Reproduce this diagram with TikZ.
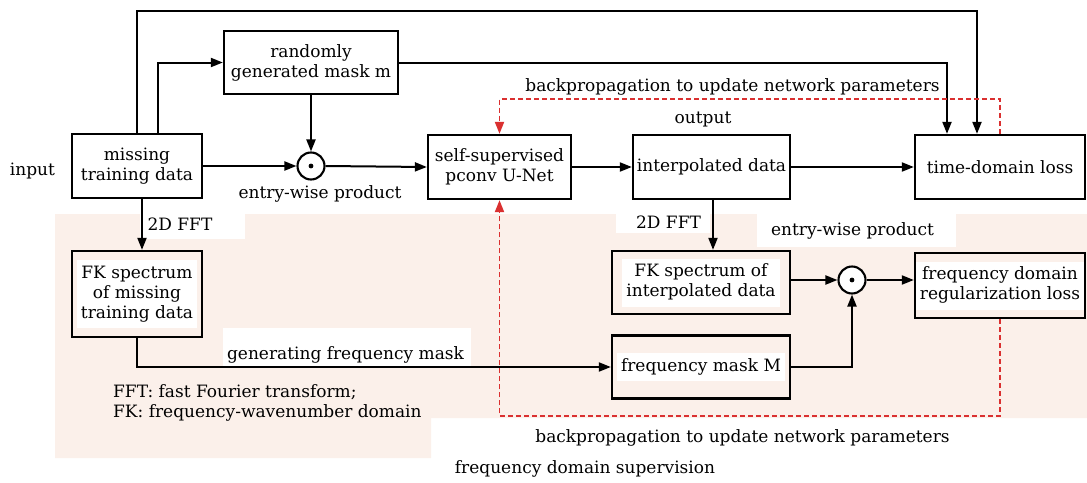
\documentclass[tikz,border=0pt]{standalone}
\usepackage{fontspec}
\setmainfont{DejaVu Serif}
\usetikzlibrary{arrows.meta}
\definecolor{bgpink}{RGB}{251,240,234}
\definecolor{bpred}{RGB}{218,48,48}
\newcommand{\wbx}[1]{{\setlength{\fboxsep}{4pt}\colorbox{white}{\begin{tabular}{@{}c@{}}#1\end{tabular}}}}
\tikzset{
  box/.style={draw, line width=2.3pt, fill=white, align=center, inner sep=0pt},
  pbox/.style={box, fill=bgpink},
  conn/.style={line width=2pt, -{Triangle[length=12pt,width=9pt]}},
  bp/.style={bpred, line width=1.9pt, dash pattern=on 5pt off 3pt, -{Triangle[length=12pt,width=9pt]}},
  prod/.style={circle, draw, line width=2.1pt, minimum size=27pt, inner sep=0pt, fill=white},
  dotc/.style={fill=black},
  lbl/.style={inner sep=0pt, anchor=base},
}
\begin{document}
\begin{tikzpicture}[x=1pt, y=-1pt, font=\fontsize{17}{20}\selectfont]
\useasboundingbox (0,0) rectangle (1087,482);
% background shading and white label patches
\fill[bgpink] (55,214) -- (1087,214) -- (1087,418) -- (431,418) -- (431,458) -- (55,458) -- cycle;
\fill[white] (140,213) rectangle (245,239);
\fill[white] (616,213) rectangle (710,233);
\fill[white] (757,213) rectangle (956,247);
\fill[white] (223,328) rectangle (471,367);
\coordinate (topy) at (0,11);
\coordinate (bpt) at (0,99);
\coordinate (bpb) at (0,416);
% nodes
\node[box, minimum width=130pt, minimum height=64pt] (missing) at (137,166) {missing\\training data};
\node[box, minimum width=174pt, minimum height=63pt] (mask) at (311,62.5) {randomly\\generated mask m};
\node[prod] (circ1) at (311,166) {};
\node[box, minimum width=143pt, minimum height=64pt] (self) at (499.5,167) {self-supervised\\pconv U-Net};
\node[box, minimum width=157pt, minimum height=64pt] (interp) at (711.5,167) {interpolated data};
\node[box, minimum width=170pt, minimum height=64pt] (time) at (1000,167) {time-domain loss};
\node[pbox, minimum width=130pt, minimum height=86pt] (fkmiss) at (137,294) {\wbx{FK spectrum\\of missing\\training data}};
\node[pbox, minimum width=178pt, minimum height=63pt] (fkinterp) at (701,282.5) {\wbx{FK spectrum of\\interpolated data}};
\node[pbox, minimum width=178pt, minimum height=63pt] (freqmask) at (701,367) {\wbx{frequency mask M}};
\node[prod] (circ2) at (852,280) {};
\node[pbox, minimum width=170pt, minimum height=65pt] (freqloss) at (1000,285.5) {\wbx{frequency domain\\regularization loss}};
\fill[dotc] (circ1.center) circle (2.4pt);
\fill[dotc] (circ2.center) circle (2.4pt);
% labels
\node[lbl] (inputlbl) at (32.5,175) {input};
\node[lbl] (ewp1) at (320,198) {entry-wise product};
\node[lbl] (outlbl) at (703,123) {output};
\node[lbl] (bptop) at (732.5,91) {backpropagation to update network parameters};
\node[lbl] (fft1) at (180,230) {2D FFT};
\node[lbl] (fft2) at (668.5,228) {2D FFT};
\node[lbl] (ewp2) at (852.5,235) {entry-wise product};
\node[lbl] (genlbl) at (345.5,359) {generating frequency mask};
\node[lbl, anchor=base west] (leg1) at (113,397) {FFT: fast Fourier transform;};
\node[lbl, anchor=base west] (leg2) at (113,417) {FK: frequency-wavenumber domain};
\node[lbl] (bpbot) at (742.5,442) {backpropagation to update network parameters};
\node[lbl] (sup) at (585,473) {frequency domain supervision};
% connectors
\draw[conn] (missing.north) -- (missing.north |- topy) -| ([xshift=-23pt]time.north);
\draw[conn] ([xshift=21pt]missing.north) |- (mask.west);
\draw[conn] (mask.east) -| ([xshift=-53pt]time.north);
\draw[conn] (mask.south) -- (circ1.north);
\draw[conn] (missing.east) -- (circ1.west);
\draw[conn] (circ1.east) -- (self.west);
\draw[conn] (self.east) -- (interp.west);
\draw[conn] (interp.east) -- (time.west);
\draw[bp] (time.north) -- (time.north |- bpt) -| (self.north);
\draw[conn] ([xshift=5pt]missing.south) -- ([xshift=5pt]fkmiss.north);
\draw[conn] (fkmiss.south) |- (freqmask.west);
\coordinate (ia) at ([xshift=1.5pt]interp.south);
\draw[conn] (ia) -- (ia |- fkinterp.north);
\draw[conn] (fkinterp.east |- circ2) -- (circ2.west);
\draw[conn] (circ2.east) -- (freqloss.west |- circ2);
\draw[conn] (freqmask.east) -| (circ2.south);
\draw[bp] (freqloss.south) -- (freqloss.south |- bpb) -| (self.south);
\end{tikzpicture}
\end{document}
